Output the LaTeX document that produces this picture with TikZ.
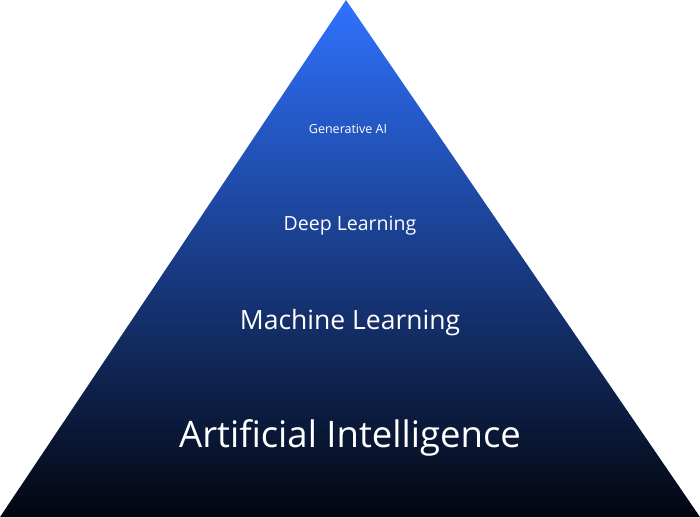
\documentclass[tikz,border=0pt]{standalone}
\usepackage{fontspec}
\setmainfont{Open Sans}
\definecolor{topblue}{HTML}{2F72FF}
\definecolor{midblue}{HTML}{1A3FB8}
\definecolor{botdark}{HTML}{03060F}
\tikzset{lbl/.style={text=white,inner sep=0pt,anchor=center}}
\begin{document}
\begin{tikzpicture}[x=1pt,y=-1pt]
\useasboundingbox (0,0) rectangle (700,517);
\shade[top color=topblue,middle color=midblue,bottom color=botdark]
  (346,0) -- (700,517) -- (0,517) -- cycle;
\node[lbl,font=\fontsize{12.5}{14}\selectfont] (gen) at (348,129) {Generative AI};
\node[lbl,font=\fontsize{19.5}{22}\selectfont] (dl) at (350,226) {Deep Learning};
\node[lbl,font=\fontsize{26.5}{30}\selectfont] (ml) at (350,323) {Machine Learning};
\node[lbl,font=\fontsize{36.5}{40}\selectfont] (ai) at (350,438) {Artificial Intelligence};
\end{tikzpicture}
\end{document}
